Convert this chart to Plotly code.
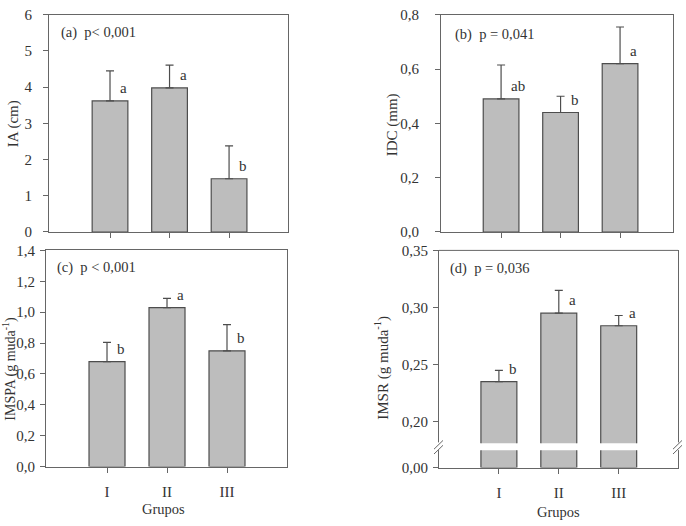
import plotly.graph_objects as go

W, H = 686, 526

groups = ["I", "II", "III"]

ia_mean = [3.62, 3.98, 1.47]
ia_err = [0.83, 0.63, 0.91]
ia_letters = ["a", "a", "b"]

idc_mean = [0.49, 0.44, 0.62]
idc_err = [0.125, 0.06, 0.135]
idc_letters = ["ab", "b", "a"]

imspa_mean = [0.68, 1.03, 0.75]
imspa_err = [0.125, 0.06, 0.17]
imspa_letters = ["b", "a", "b"]

imsr_mean = [0.235, 0.295, 0.284]
imsr_err = [0.010, 0.020, 0.009]
imsr_letters = ["b", "a", "a"]

FONT = "Liberation Serif"
TXT = "#333333"
BAR_FILL = "#bdbdbd"
BAR_LINE = "#4d4d4d"
AX = "#666666"


def px(x):
    return x / W


def py(y):
    return 1 - y / H


fig = go.Figure()


def add_bars(mean, err, xa, ya, with_err=True):
    fig.add_trace(go.Bar(
        x=groups, y=mean, width=0.6, xaxis=xa, yaxis=ya,
        marker=dict(color=BAR_FILL, line=dict(color=BAR_LINE, width=1.2)),
        error_y=dict(type="data", array=err, arrayminus=[0] * len(err), symmetric=False,
                     color=BAR_LINE, thickness=1.2, width=4, visible=with_err),
        showlegend=False, hoverinfo="skip",
    ))


add_bars(ia_mean, ia_err, "x", "y")
add_bars(idc_mean, idc_err, "x2", "y2")
add_bars(imspa_mean, imspa_err, "x3", "y3")
add_bars(imsr_mean, imsr_err, "x4", "y4")
add_bars(imsr_mean, imsr_err, "x4", "y5", with_err=False)

tickfont = dict(family=FONT, size=15, color=TXT)

xcommon = dict(type="category", showline=True, linecolor=AX, linewidth=1, ticks="outside",
               ticklen=5, tickcolor=AX, showgrid=False, zeroline=False, tickfont=tickfont,
               fixedrange=True)
ycommon = dict(showline=True, linecolor=AX, linewidth=1, ticks="outside", ticklen=5,
               tickcolor=AX, showgrid=False, zeroline=False, tickfont=tickfont, fixedrange=True)

fig.update_layout(
    width=W, height=H, autosize=False,
    margin=dict(l=0, r=0, t=0, b=0),
    paper_bgcolor="white", plot_bgcolor="white",
    separators=",.",
    bargap=0.4,
    xaxis=dict(xcommon, domain=[px(49), px(288)], range=[-1.025, 2.99], anchor="y",
               mirror=True, showticklabels=False),
    yaxis=dict(ycommon, domain=[py(231), py(7)], range=[0, 6], dtick=1, anchor="x",
               mirror=True, ticklabelstandoff=8),
    xaxis2=dict(xcommon, domain=[px(441), px(673)], range=[-1.01, 2.89], anchor="y2",
                mirror=True, showticklabels=False),
    yaxis2=dict(ycommon, domain=[py(231), py(7)], range=[0, 0.8], dtick=0.2, tickformat=".1f",
                anchor="x2", mirror=True, ticklabelstandoff=13),
    xaxis3=dict(xcommon, domain=[px(46), px(287)], range=[-1.017, 3.0], anchor="y3",
                mirror=True, ticklabelstandoff=6),
    yaxis3=dict(ycommon, domain=[py(473), py(250)], range=[0, 1.4], dtick=0.2, tickformat=".1f",
                anchor="x3", mirror=True, ticklabelstandoff=2),
    xaxis4=dict(xcommon, domain=[px(439), px(678)], range=[-1.0, 2.99], anchor="y5",
                mirror=False, ticklabelstandoff=6),
    yaxis4=dict(ycommon, domain=[py(449), py(250)], range=[0.181, 0.35],
                tickvals=[0.20, 0.25, 0.30, 0.35], tickformat=".2f", anchor="x4",
                mirror=True, ticklabelstandoff=2),
    yaxis5=dict(ycommon, domain=[py(474), py(456)], range=[0, 0.012],
                tickvals=[0], tickformat=".2f", anchor="x4", mirror=True, ticklabelstandoff=2),
)

annotations = []

# significance letters
for mean, letters, xr, yr in [
    (ia_mean, ia_letters, "x", "y"),
    (idc_mean, idc_letters, "x2", "y2"),
    (imspa_mean, imspa_letters, "x3", "y3"),
    (imsr_mean, imsr_letters, "x4", "y4"),
]:
    for i, (m, lt) in enumerate(zip(mean, letters)):
        annotations.append(dict(
            x=i, y=m, xref=xr, yref=yr, text=lt, showarrow=False,
            xanchor="left", yanchor="middle", xshift=8, yshift=13,
            font=dict(family=FONT, size=15, color=TXT),
        ))

# panel labels
for txt, x, y in [
    ("(a)\u00a0 p&lt; 0,001", 59, 25),
    ("(b)\u00a0 p = 0,041", 453, 27),
    ("(c)\u00a0 p &lt; 0,001", 55, 268),
    ("(d)\u00a0 p = 0,036", 448, 269),
]:
    annotations.append(dict(
        x=px(x), y=py(y), xref="paper", yref="paper", text=txt, showarrow=False,
        xanchor="left", yanchor="middle", font=dict(family=FONT, size=14.5, color=TXT),
    ))

# axis titles
for txt, x, y, fs in [
    ("IA (cm)", 13, 120, 15),
    ("IDC (mm)", 392, 121, 15),
    ("IMSPA (g muda<sup>-1</sup>)", 10, 372, 14),
    ("IMSR (g muda<sup>-1</sup>)", 382, 371, 15),
]:
    annotations.append(dict(
        x=px(x), y=py(y), xref="paper", yref="paper", text=txt, showarrow=False,
        textangle=-90, xanchor="center", yanchor="middle",
        font=dict(family=FONT, size=fs, color=TXT),
    ))

for x, y in [(163, 517), (558, 520)]:
    annotations.append(dict(
        x=px(x), y=py(y), xref="paper", yref="paper", text="Grupos", showarrow=False,
        xanchor="center", yanchor="middle", font=dict(family=FONT, size=14.5, color=TXT),
    ))

fig.update_layout(annotations=annotations)

# top frame line of panel (d) and axis break marks
shapes = [dict(type="line", xref="paper", yref="paper", x0=px(439), x1=px(678),
               y0=py(250), y1=py(250), line=dict(color=AX, width=1))]
for xc in (439, 678):
    shapes.append(dict(type="rect", xref="paper", yref="paper", x0=px(xc - 2), x1=px(xc + 2),
                       y0=py(456), y1=py(448), fillcolor="white", line=dict(width=0)))
    for dy in (0, 5):
        shapes.append(dict(type="line", xref="paper", yref="paper",
                           x0=px(xc - 5), y0=py(455 + dy), x1=px(xc + 4), y1=py(446 + dy),
                           line=dict(color=AX, width=1)))
fig.update_layout(shapes=shapes)

fig.write_html("out.html", config={"displayModeBar": False},
               post_script="document.body.style.margin='0';")
